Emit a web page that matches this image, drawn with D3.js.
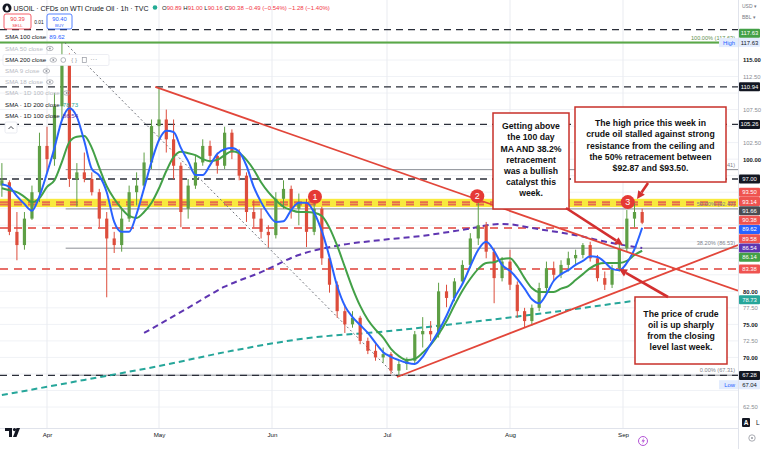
<!DOCTYPE html>
<html><head><meta charset="utf-8">
<script src="https://cdn.jsdelivr.net/npm/d3@7"></script>
<style>
html,body{margin:0;padding:0;background:#fff;overflow:hidden}
svg{display:block;font-family:"Liberation Sans",Arial,sans-serif}
</style></head><body>
<svg id="c" width="768" height="449"></svg>
<script>
// ---------------- DATA ----------------
const candleDates = ["03-20","03-22","03-24","03-26","03-28","03-30","04-01","04-03","04-05","04-07","04-09","04-11","04-13","04-15","04-17","04-19","04-21","04-23","04-25","04-27","04-29","05-01","05-03","05-05","05-07","05-09","05-11","05-13","05-15","05-17","05-19","05-21","05-23","05-25","05-27","05-29","05-31","06-02","06-04","06-06","06-08","06-10","06-12","06-14","06-16","06-18","06-20","06-22","06-24","06-26","06-28","06-30","07-02","07-04","07-06","07-08","07-10","07-12","07-14","07-16","07-18","07-20","07-22","07-24","07-26","07-28","07-30","08-01","08-03","08-05","08-07","08-09","08-11","08-13","08-15","08-17","08-19","08-21","08-23","08-25","08-27","08-29","08-31","09-02","09-04","09-06"];
const opens  = [96,96.5,89,87,91,95,102,100,108,115,97,98,97,95,91,88,87,91,95,96,99.5,105,106,103,99,92.5,96,99.5,102,100.5,99,104,101,97.5,92,91,89,88.5,94,95.5,92.5,93.5,89,92.5,85,81,77,75,76,72.5,71,70,70.5,68,69,69.5,73.5,74,73.5,80,79,81.5,84,88,90,86,82,84.5,81,77,75.5,77.5,80.5,83.5,82.5,84,85,85.5,87,85,82,81,83.5,86.5,91,92];
const highs  = [99.4,96.8,92,92,96,104,104.9,110,117.63,116,99.4,101,98,95.5,92,89,92.5,96,98,101,106,110.94,107.5,106,99.5,97,100.5,103,102.8,101,104.9,104.5,101.5,98,93.8,92.5,90,95,96.8,96,94.8,94,93.8,92.8,85.5,81.5,78,77,76.3,73,72,71.5,70.8,69.5,70,74,76.1,75.5,81.3,81,82,84.7,88.8,93.4,90.5,86.5,85.2,86.3,81.5,77.5,78,81.3,84.5,84.5,84.7,86,86.3,87.3,87.5,85.5,83,84,87.3,92.3,93.4,92.5];
const lows   = [94.3,88.5,84.7,86.3,90.8,93.5,98,99,106,95.8,92.8,96.5,94.5,89.7,79.1,85.8,86,90.5,93,95.5,98.5,103,101,97,89.7,91,95.5,99,99.5,97.8,98.5,100,96.8,90.5,89.7,88,86.7,88,92.5,91,90,86.7,88.5,84,79.8,76,73.7,74.5,72,70.5,69.5,69.2,67.5,67.04,68.1,69,71.5,72.5,73,77.6,78.5,81,83.5,87,85,78.2,81.5,80.2,76,74.6,74.8,77,79.5,81.5,82,83,84,85,84.5,81.5,80.2,80.5,83,86,89.7,90.16];
const closes = [96.8,89,87,91,95,102,100,108,115,97,98,97,95,91,88,87,91,95,96,99.5,105,106,103,99,92,96,99.5,102,100.5,99,104,101,97.5,92,91,89,88.5,94,95.5,92.5,93.5,89,92.5,85,81,77,75,76,72.5,71,70,70.5,68,69,69.5,73.5,74,73.5,80,79,81.5,84,88,90,86,82,84.5,81,77,75.5,77.5,80.5,83.5,82.5,84,85,85.5,87,85,82,81,83.5,86.5,91,92,90.38];
// SMA 100 (1h) and SMA 200 (1h), read at the candle dates
const sma100h = [96.2,95.8,94.4,93.2,92.2,94.4,97.9,101.7,105.9,107.7,106.4,102.7,98.5,97.5,95.0,90.5,89.0,89.0,91.7,95.6,99.6,102.9,104.3,104.1,101.7,99.7,97.6,97.6,99.1,100.8,101.5,101.7,101.1,99.0,95.8,93.5,91.7,90.5,90.6,92.3,93.4,93.4,91.9,89.1,85.2,80.8,77.8,76.1,74.9,73.7,72.2,70.8,70.1,69.6,69.2,69.0,70.1,72.0,74.0,76.3,79.0,81.1,83.8,86.3,87.5,86.1,84.0,83.1,81.9,80.4,78.8,78.2,79.6,81.6,82.6,83.2,84.0,84.6,85.3,85.2,84.4,83.4,83.2,84.3,86.4,89.62];
const sma200h = [95.6,95.3,95.0,94.3,93.5,94.1,95.8,96.8,99.6,102.6,103.4,103.5,101.7,98.7,95.9,94.0,92.5,91.4,91.1,92.0,93.4,95.6,98.2,100.3,101.1,100.9,100.6,100.0,99.7,99.9,100.6,101.2,100.9,99.9,98.4,96.5,95.0,93.8,92.8,92.3,92.0,92.0,91.9,91.4,89.6,86.9,83.7,80.5,77.8,75.7,74.2,73.0,71.3,70.2,69.6,69.8,70.7,71.9,73.5,75.5,77.9,80.1,81.9,83.4,84.3,84.4,84.9,85.0,83.8,82.0,80.5,79.9,79.9,79.9,80.4,80.8,81.7,82.6,83.5,84.1,84.3,84.3,84.3,84.6,85.5,86.14];
// Daily SMAs
const sma1d100Dates = ["04-27","05-09","05-19","05-29","06-08","06-18","06-30","07-10","07-20","07-30","08-09","08-19","08-29","09-06"];
const sma1d100 = [73.7,77.5,80.7,82.9,85.5,86.9,87.8,88.4,89.3,90.2,89.4,88.5,87.3,86.54];
const sma1d200Dates = ["03-20","04-11","05-01","05-21","06-10","06-30","07-20","08-09","08-29","09-06"];
const sma1d200 = [64.3,66.6,68.7,71.0,72.9,73.9,75.2,76.6,78.1,78.73];
// Axis ticks
const priceTicks = [62.5,65,67.5,70,72.5,75,77.5,80,82.5,85,87.5,90,92.5,95,97.5,100,102.5,105,107.5,110,112.5,115,117.5];
const monthDates = ["04-01","05-01","06-01","07-01","08-01","09-01"];
const monthLabels = ["Apr","May","Jun","Jul","Aug","Sep"];
// Horizontal levels
const blackLevels = [119.6,110.94,105.26,97.00,67.28];
const redLevels = [93.50,93.14,89.58,83.38];
const highLevel = 117.63;
const resistanceBand = [92.75,94.0];
const fibValues = [67.31,86.53,92.47,98.41,117.63];
const fibLabels = ["0.00% (67.31)","38.20% (86.53)","50.00% (92.47)","61.80% (98.41)","100.00% (117.63)"];
const fibStart = "04-06";
// Trend lines
const trendFrom = [["04-30 00:00",110.94],["07-03 12:00",67.04]];
const trendTo   = [["10-01 00:00",80.1],["10-01 00:00",87.0]];
const fibDiagFrom = ["04-05 18:00",117.63], fibDiagTo = ["07-03 12:00",67.04];
// Numbered markers
const markerTimes = ["06-12 05:00","07-23 18:00","09-02 06:00"];
const markerPrices = [94.3,94.4,93.5];
const markerText = ["1","2","3"];
// Price scale labels
const scaleLabels = [
  {v:117.63,t:"117.63",bg:"#43a047",fg:"#fff"},
  {v:117.63,t:"117.63",bg:"#e3ecfd",fg:"#131722",tag:"High",fixed:true},
  {v:110.94,t:"110.94",bg:"#131722",fg:"#fff"},
  {v:105.26,t:"105.26",bg:"#131722",fg:"#fff"},
  {v:97.00,t:"97.00",bg:"#131722",fg:"#fff"},
  {v:93.50,t:"93.50",bg:"#ef5350",fg:"#fff"},
  {v:93.14,t:"93.14",bg:"#ef5350",fg:"#fff"},
  {v:91.66,t:"91.66",bg:"#4a4c52",fg:"#fff"},
  {v:90.38,t:"90.38",bg:"#ef5350",fg:"#fff"},
  {v:89.62,t:"89.62",bg:"#2962ff",fg:"#fff"},
  {v:89.58,t:"89.58",bg:"#ef5350",fg:"#fff"},
  {v:86.54,t:"86.54",bg:"#5e35b1",fg:"#fff"},
  {v:86.14,t:"86.14",bg:"#43a047",fg:"#fff"},
  {v:83.38,t:"83.38",bg:"#ef5350",fg:"#fff"},
  {v:78.73,t:"78.73",bg:"#26a69a",fg:"#fff"},
  {v:67.28,t:"67.28",bg:"#131722",fg:"#fff",fixed:true},
  {v:67.04,t:"67.04",bg:"#e3ecfd",fg:"#131722",tag:"Low"}
];
const legendRows = [
  {t:"SMA 100 close",v:"89.62",c:"#2962ff",on:true},
  {t:"SMA 50 close",on:false},
  {t:"SMA 200 close",on:true,tools:true},
  {t:"SMA 9 close",on:false},
  {t:"SMA 18 close",on:false},
  {t:"SMA · 1D 100 close",on:false},
  {t:"SMA · 1D 200 close",v:"78.73",c:"#26a69a",on:true},
  {t:"SMA · 1D 100 close",v:"86.54",c:"#5e35b1",on:true}
];
const notes = [
  ["Getting above","the 100 day","MA AND 38.2%","retracement","was a bullish","catalyst this","week."],
  ["The high price this week in","crude oil stalled against strong","resistance from the ceiling and","the 50% retracement between","$92.87 and $93.50."],
  ["The price of crude","oil is up sharply","from the closing","level last week."]
];

// ---------------- CHART ----------------
const YR = "2024-";
const pD = d3.timeParse("%Y-%m-%d");
const pT = d3.timeParse("%Y-%m-%d %H:%M");
const svg = d3.select("#c");
const plotR = 738, plotB = 428;

const x = d3.scaleTime()
  .domain([pT("2024-03-19 12:00"),pD("2024-04-01"),pD("2024-05-01"),pD("2024-06-01"),pD("2024-07-01"),pD("2024-08-01"),pD("2024-09-01"),pD("2024-10-01")])
  .range([0,47,159,272,387,510,623,738]);
const y = d3.scaleLinear().domain([62.5,115]).range([407,60]);

svg.append("defs").append("clipPath").attr("id","plot")
  .append("rect").attr("x",0).attr("y",0).attr("width",plotR).attr("height",plotB);
const g = svg.append("g").attr("clip-path","url(#plot)");

// grid
g.selectAll(".hg").data(priceTicks).join("line")
  .attr("x1",0).attr("x2",plotR).attr("y1",d=>y(d)).attr("y2",d=>y(d))
  .attr("stroke","#f0f2f6").attr("stroke-width",1);
g.selectAll(".vg").data(monthDates).join("line")
  .attr("x1",d=>x(pD(YR+d))).attr("x2",d=>x(pD(YR+d))).attr("y1",0).attr("y2",plotB)
  .attr("stroke","#e9ebf0").attr("stroke-width",1);

// yellow band
g.append("rect").attr("x",0).attr("width",plotR)
  .attr("y",y(resistanceBand[1])).attr("height",y(resistanceBand[0])-y(resistanceBand[1]))
  .attr("fill","#f7e829").attr("opacity",0.9);

// fib lines
const fx0 = x(pD(YR+fibStart));
g.selectAll(".fib").data(fibValues).join("line")
  .attr("x1",fx0).attr("x2",plotR).attr("y1",d=>y(d)).attr("y2",d=>y(d))
  .attr("stroke",(d,i)=>i===4?"#4caf50":"#8a8d94").attr("stroke-width",1);
g.append("line").attr("x1",0).attr("x2",plotR).attr("y1",y(highLevel)).attr("y2",y(highLevel))
  .attr("stroke","#5aa847").attr("stroke-width",2);

// black dashed levels
g.selectAll(".bl").data(blackLevels).join("line")
  .attr("x1",0).attr("x2",plotR).attr("y1",d=>y(d)).attr("y2",d=>y(d))
  .attr("stroke","#2a2e39").attr("stroke-width",1.4).attr("stroke-dasharray","7,5");
// red dashed levels
g.selectAll(".rl").data(redLevels).join("line")
  .attr("x1",0).attr("x2",plotR).attr("y1",d=>y(d)).attr("y2",d=>y(d))
  .attr("stroke","#e3574f").attr("stroke-width",1.8).attr("stroke-dasharray","8,6").attr("opacity",0.85);

// fib labels
g.selectAll(".fl").data(fibValues).join("text")
  .attr("x",735).attr("y",d=>y(d)-3).attr("text-anchor","end")
  .attr("font-size",5.6).attr("fill",(d,i)=>i===4?"#5f8f4f":"#80838c")
  .text((d,i)=>fibLabels[i]);

// daily SMA dashed
const lineGen = d3.line().curve(d3.curveMonotoneX);
g.append("path").attr("d",lineGen(sma1d200Dates.map((d,i)=>[x(pD(YR+d)),y(sma1d200[i])])))
  .attr("fill","none").attr("stroke","#26a69a").attr("stroke-width",2).attr("stroke-dasharray","6,4");
g.append("path").attr("d",lineGen(sma1d100Dates.map((d,i)=>[x(pD(YR+d)),y(sma1d100[i])])))
  .attr("fill","none").attr("stroke","#5e35b1").attr("stroke-width",2).attr("stroke-dasharray","6,4");

// fib diagonal dotted
g.append("line")
  .attr("x1",x(pT(YR+fibDiagFrom[0]))).attr("y1",y(fibDiagFrom[1]))
  .attr("x2",x(pT(YR+fibDiagTo[0]))).attr("y2",y(fibDiagTo[1]))
  .attr("stroke","#70737b").attr("stroke-width",1).attr("stroke-dasharray","2,2.5");

// candles
const candles = candleDates.map((d,i)=>({t:pD(YR+d),o:opens[i],h:highs[i],l:lows[i],c:closes[i]}));
const up = "#5e9f45", dn = "#dd4d3c";
const cg = g.append("g");
cg.selectAll("line").data(candles).join("line")
  .attr("x1",d=>x(d.t)).attr("x2",d=>x(d.t)).attr("y1",d=>y(d.h)).attr("y2",d=>y(d.l))
  .attr("stroke",d=>d.c>=d.o?up:dn).attr("stroke-width",1);
cg.selectAll("rect").data(candles).join("rect")
  .attr("x",d=>x(d.t)-1.6).attr("width",3.2)
  .attr("y",d=>y(Math.max(d.o,d.c))).attr("height",d=>Math.max(1,Math.abs(y(d.o)-y(d.c))))
  .attr("fill",d=>d.c>=d.o?up:dn);

// hourly SMAs
g.append("path").attr("d",lineGen(candles.map((d,i)=>[x(d.t),y(sma200h[i])])))
  .attr("fill","none").attr("stroke","#43a047").attr("stroke-width",2);
g.append("path").attr("d",lineGen(candles.map((d,i)=>[x(d.t),y(sma100h[i])])))
  .attr("fill","none").attr("stroke","#2962ff").attr("stroke-width",2);

// trend lines
g.selectAll(".tl").data(trendFrom).join("line")
  .attr("x1",d=>x(pT(YR+d[0]))).attr("y1",d=>y(d[1]))
  .attr("x2",(d,i)=>x(pT(YR+trendTo[i][0]))).attr("y2",(d,i)=>y(trendTo[i][1]))
  .attr("stroke","#e2463a").attr("stroke-width",1.8);

// markers
const mk = g.selectAll(".mk").data(markerTimes).join("g")
  .attr("transform",(d,i)=>`translate(${x(pT(YR+d))},${y(markerPrices[i])})`);
mk.append("circle").attr("r",7).attr("fill","#e53935");
mk.append("text").attr("text-anchor","middle").attr("dy","0.35em").attr("font-size",9)
  .attr("fill","#fff").text((d,i)=>markerText[i]);

// annotation boxes (layout in pixels)
const boxes = [
  {x:493,y:113,w:76,h:96,cx:531,ty:127},
  {x:575,y:107,w:151,h:75,cx:650.5,ty:124},
  {x:635,y:297,w:92,h:67,cx:681,ty:314.5}
];
const ag = svg.append("g");
boxes.forEach((b,i)=>{
  ag.append("rect").attr("x",b.x).attr("y",b.y).attr("width",b.w).attr("height",b.h)
    .attr("fill","#fff").attr("stroke","#c8312a").attr("stroke-width",1.5);
  ag.selectAll(null).data(notes[i]).join("text")
    .attr("x",b.cx).attr("y",(d,j)=>b.ty+j*11.2).attr("text-anchor","middle")
    .attr("font-size",8.7).attr("font-weight","bold").attr("fill","#111")
    .attr("dominant-baseline","middle").text(d=>d);
});
const arrows = [[648,183,637,199],[566,208,623,245],[668,297,619,269]];
arrows.forEach(a=>{
  const [x1,y1,x2,y2]=a, ang=Math.atan2(y2-y1,x2-x1), L=8, W=4;
  const bx=x2-L*Math.cos(ang), by=y2-L*Math.sin(ang);
  ag.append("line").attr("x1",x1).attr("y1",y1).attr("x2",bx).attr("y2",by)
    .attr("stroke","#d32f2f").attr("stroke-width",2.6);
  ag.append("path").attr("d",`M${x2},${y2}L${bx+W*Math.sin(ang)},${by-W*Math.cos(ang)}L${bx-W*Math.sin(ang)},${by+W*Math.cos(ang)}Z`)
    .attr("fill","#d32f2f");
});

// axes frame
svg.append("line").attr("x1",plotR+0.5).attr("x2",plotR+0.5).attr("y1",0).attr("y2",449).attr("stroke","#e0e3eb");
svg.append("line").attr("x1",0).attr("x2",plotR).attr("y1",plotB+0.5).attr("y2",plotB+0.5).attr("stroke","#e0e3eb");

// scale labels with stacking
const items = scaleLabels.map((l,i)=>({...l,y:y(l.v),i})).sort((a,b)=>a.y-b.y||a.i-b.i);
const gap = 9.3;
for(let it=0;it<300;it++){
  for(let k=1;k<items.length;k++){
    const a=items[k-1], b=items[k], d=b.y-a.y;
    if(d<gap){
      const m=gap-d;
      if(a.fixed){ b.y+=m; } else if(b.fixed){ a.y-=m; } else { a.y-=m/2; b.y+=m/2; }
    }
  }
}
// right axis: ticks hidden behind a label box are not drawn
const visTicks = priceTicks.filter(v=>v<=115 && !items.some(l=>Math.abs(l.y-y(v))<7.8));
const ya = svg.append("g").attr("transform",`translate(${plotR},0)`)
  .call(d3.axisRight(y).tickValues(visTicks).tickSize(0).tickPadding(5).tickFormat(d3.format(".2f")));
ya.select(".domain").remove();
ya.selectAll("text").attr("font-size",5.9).attr("font-family","'Liberation Sans',Arial,sans-serif")
  .attr("fill",d=>d%5===0?"#131722":"#8a8d94").attr("font-weight",d=>d%5===0?"bold":"normal");

// bottom axis
const xa = svg.append("g").attr("transform",`translate(0,${plotB})`)
  .call(d3.axisBottom(x).tickValues(monthDates.map(d=>pD(YR+d))).tickSize(0).tickPadding(5)
  .tickFormat((d,i)=>monthLabels[i]));
xa.select(".domain").remove();
xa.selectAll("text").attr("font-size",6.2).attr("fill","#131722").attr("font-family","'Liberation Sans',Arial,sans-serif");

const lg = svg.append("g");
items.forEach(l=>{
  if(l.tag){
    lg.append("rect").attr("x",719).attr("y",l.y-4.5).attr("width",19).attr("height",9).attr("fill",l.bg);
    lg.append("text").attr("x",735).attr("y",l.y).attr("dy","0.35em").attr("text-anchor","end")
      .attr("font-size",5.9).attr("fill","#2962ff").text(l.tag);
  }
  lg.append("rect").attr("x",739).attr("y",l.y-4.5).attr("width",21).attr("height",9).attr("rx",1).attr("fill",l.bg);
  lg.append("text").attr("x",749.5).attr("y",l.y).attr("dy","0.35em").attr("text-anchor","middle")
    .attr("font-size",5.9).attr("fill",l.fg).text(l.t);
});

// top-right currency / unit
svg.append("text").attr("x",742).attr("y",8).attr("font-size",5).attr("fill","#787b86").text("USD   ▾");
svg.append("text").attr("x",742).attr("y",19).attr("font-size",5).attr("fill","#787b86").text("BBL   ▾");
// bottom-right buttons
svg.append("rect").attr("x",742).attr("y",418).attr("width",8).attr("height",9).attr("rx",1).attr("fill","#131722");
svg.append("text").attr("x",746).attr("y",425).attr("text-anchor","middle").attr("font-size",6.5).attr("font-weight","bold").attr("fill","#fff").text("A");
svg.append("text").attr("x",756).attr("y",425).attr("font-size",6.5).attr("fill","#131722").text("L");
svg.append("circle").attr("cx",752).attr("cy",438).attr("r",3.2).attr("fill","none").attr("stroke","#9598a1").attr("stroke-width",0.8);
svg.append("circle").attr("cx",752).attr("cy",438).attr("r",1).attr("fill","#9598a1");
// lightning icon
svg.append("circle").attr("cx",643).attr("cy",441).attr("r",4.5).attr("fill","#fff").attr("stroke","#b455d6").attr("stroke-width",1);
svg.append("path").attr("d","M644,437.5L641.5,441.5L643.3,441.5L642,444.5L645,440.3L643.2,440.3Z").attr("fill","#b455d6");
// logo
const lgo = svg.append("g").attr("fill","#131722");
lgo.append("path").attr("d","M5,428H12V437H9V431H5Z");
lgo.append("circle").attr("cx",14.5).attr("cy",429.6).attr("r",1.6);
lgo.append("path").attr("d","M16.5,428H20L16.5,437H13Z");

// header
const hd = svg.append("g");
hd.append("circle").attr("cx",7).attr("cy",8).attr("r",4.5).attr("fill","#131722");
hd.append("path").attr("d","M7,5.2C5.6,7.2 5.2,8.2 5.2,9C5.2,10 6,10.8 7,10.8C8,10.8 8.8,10 8.8,9C8.8,8.2 8.4,7.2 7,5.2Z").attr("fill","#fff");
hd.append("text").attr("x",13.5).attr("y",10.5).attr("font-size",7).attr("fill","#131722")
  .text("USOIL · CFDs on WTI Crude Oil · 1h · TVC");
hd.append("circle").attr("cx",155).attr("cy",7.5).attr("r",2.3).attr("fill","#22ab94");
const ohlc = hd.append("text").attr("x",162).attr("y",10).attr("font-size",6);
[["O","90.89"],[" H","91.00"],[" L","90.16"],[" C","90.38"]].forEach(p=>{
  ohlc.append("tspan").attr("fill","#131722").text(p[0]);
  ohlc.append("tspan").attr("fill","#f23645").text(p[1]);
});
ohlc.append("tspan").attr("fill","#f23645").text(" −0.49 (−0.54%)  −1.28 (−1.40%)");

// sell / buy
hd.append("rect").attr("x",4).attr("y",14).attr("width",27).attr("height",15).attr("rx",2).attr("fill","#fff").attr("stroke","#f23645").attr("stroke-width",0.8);
hd.append("text").attr("x",17.5).attr("y",21).attr("text-anchor","middle").attr("font-size",5.8).attr("fill","#f23645").text("90.39");
hd.append("text").attr("x",17.5).attr("y",27).attr("text-anchor","middle").attr("font-size",4.3).attr("fill","#f23645").text("SELL");
hd.append("text").attr("x",39).attr("y",23.5).attr("text-anchor","middle").attr("font-size",4.8).attr("fill","#131722").text("0.01");
hd.append("rect").attr("x",47).attr("y",14).attr("width",25).attr("height",15).attr("rx",2).attr("fill","#fff").attr("stroke","#2962ff").attr("stroke-width",0.8);
hd.append("text").attr("x",59.5).attr("y",21).attr("text-anchor","middle").attr("font-size",5.8).attr("fill","#2962ff").text("90.40");
hd.append("text").attr("x",59.5).attr("y",27).attr("text-anchor","middle").attr("font-size",4.3).attr("fill","#2962ff").text("BUY");

// legend
const legY = [37,48.5,60,71,82,93,104.5,116];
legendRows.forEach((r,i)=>{
  const yy = legY[i];
  if(r.tools){
    hd.append("rect").attr("x",3).attr("y",yy-5.5).attr("width",106).attr("height",11).attr("rx",1.5)
      .attr("fill","#fff").attr("stroke","#e0e3eb").attr("stroke-width",0.6);
  }
  const t = hd.append("text").attr("x",5).attr("y",yy+2.2).attr("font-size",6.2)
    .attr("fill",r.on?"#131722":"#b8bbc3").text(r.t);
  let xe = 5 + t.node().getComputedTextLength() + 3;
  if(r.v){
    hd.append("text").attr("x",xe).attr("y",yy+2.2).attr("font-size",6.2).attr("fill",r.c).text(r.v);
  } else {
    const eye = (cx)=>{
      hd.append("ellipse").attr("cx",cx).attr("cy",yy).attr("rx",3.3).attr("ry",2.2).attr("fill","none").attr("stroke","#9598a1").attr("stroke-width",0.7);
      hd.append("circle").attr("cx",cx).attr("cy",yy).attr("r",1).attr("fill","#9598a1");
    };
    eye(xe+4);
    if(r.tools){
      const c2 = xe+14;
      hd.append("circle").attr("cx",c2).attr("cy",yy).attr("r",2.4).attr("fill","none").attr("stroke","#9598a1").attr("stroke-width",0.7);
      hd.append("text").attr("x",xe+22).attr("y",yy+2).attr("font-size",6).attr("fill","#9598a1").text("{ }");
      hd.append("rect").attr("x",xe+33).attr("y",yy-2.5).attr("width",4).attr("height",5).attr("fill","none").attr("stroke","#9598a1").attr("stroke-width",0.7);
      hd.append("text").attr("x",xe+41).attr("y",yy+1.5).attr("font-size",7).attr("fill","#9598a1").text("···");
    }
  }
});
// collapse button
hd.append("rect").attr("x",5).attr("y",122).attr("width",12).attr("height",11).attr("rx",1.5).attr("fill","#fff").attr("stroke","#e0e3eb").attr("stroke-width",0.7);
hd.append("path").attr("d","M8.5,129L11,126.5L13.5,129").attr("fill","none").attr("stroke","#131722").attr("stroke-width",0.8);
</script>
</body></html>
